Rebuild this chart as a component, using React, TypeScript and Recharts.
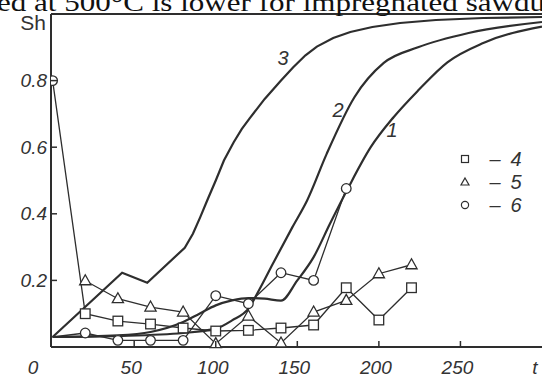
import React from "react";
import { LineChart, Line, XAxis, YAxis, ReferenceLine } from "recharts";

const xTicks = [0, 50, 100, 150, 200, 250, 300];
const yTicks = [0.2, 0.4, 0.6, 0.8];

// smooth curves 1-3
const curve1T = [0, 40, 60, 80, 90, 100, 110, 120, 130, 140, 150, 160, 170, 181, 195, 209, 224, 242, 264, 300];
const curve1Sh = [0.03, 0.035, 0.045, 0.075, 0.1, 0.125, 0.14, 0.147, 0.145, 0.139, 0.2, 0.27, 0.37, 0.476, 0.6, 0.69, 0.77, 0.855, 0.913, 0.962];

const curve2T = [0, 40, 80, 100, 110, 120, 127, 135, 147, 156, 168, 185, 203, 224, 255, 300];
const curve2Sh = [0.03, 0.033, 0.042, 0.055, 0.08, 0.115, 0.175, 0.25, 0.36, 0.44, 0.58, 0.75, 0.853, 0.9, 0.943, 0.976];

// curve 3 has sharp corners early on, so it is drawn as a polyline
const curve3T = [0, 42.6, 58, 81, 86, 90.5, 95, 100, 105, 111, 116, 121, 130, 140, 147.5, 155, 162, 172, 182.5, 196, 213, 235, 264, 300];
const curve3Sh = [0.03, 0.223, 0.193, 0.298, 0.34, 0.39, 0.443, 0.5, 0.56, 0.615, 0.655, 0.688, 0.745, 0.8, 0.84, 0.876, 0.902, 0.928, 0.946, 0.961, 0.973, 0.982, 0.988, 0.991];

// measured points 4-6
const s4T = [0, 20, 40, 60, 80, 100, 120, 140, 160, 180, 200, 220];
const s4Sh = [0.8, 0.1, 0.078, 0.069, 0.057, 0.048, 0.05, 0.057, 0.066, 0.178, 0.081, 0.178];

const s5T = [20, 40, 60, 80, 100, 120, 140, 160, 180, 200, 220];
const s5Sh = [0.199, 0.145, 0.12, 0.105, 0.01, 0.093, 0.012, 0.105, 0.14, 0.22, 0.247];

const s6T = [0, 20, 40, 60, 80, 100, 120, 140, 160, 180];
const s6Sh = [0.03, 0.042, 0.02, 0.02, 0.02, 0.154, 0.13, 0.223, 0.2, 0.476];

const toPoints = (t: number[], v: number[]) => t.map((x, i) => ({ t: x, sh: v[i] }));

const INK = "#2e2e2e";
const tickFont = { fontFamily: "Liberation Sans", fontStyle: "italic", fontSize: 19, fill: "#333" };

const XTick = (props: any) => {
  const { x, y, payload } = props;
  const v = payload.value;
  if (v === 0) {
    return <text x={x - 19.5} y={y + 20} textAnchor="middle" dominantBaseline="central" {...tickFont}>0</text>;
  }
  if (v === 300) {
    return <text x={x - 7} y={y + 20} textAnchor="middle" dominantBaseline="central" {...tickFont}>t</text>;
  }
  return (
    <g>
      <line x1={x} x2={x} y1={y} y2={y - 6} stroke={INK} strokeWidth={1.5} />
      <text x={x - 3} y={y + 20} textAnchor="middle" dominantBaseline="central" {...tickFont}>{v}</text>
    </g>
  );
};

const YTick = (props: any) => {
  const { x, y, payload } = props;
  const v = payload.value;
  return (
    <g>
      <line x1={x} x2={x + 6} y1={y} y2={y} stroke={INK} strokeWidth={1.5} />
      <text x={x - 4} y={y} textAnchor="end" dominantBaseline="central" {...tickFont}>{v.toFixed(1)}</text>
    </g>
  );
};

const openCircle = (key: string, cx: number, cy: number) => (
  <circle key={key} cx={cx} cy={cy} r={4.8} fill="#fff" stroke={INK} strokeWidth={1.3} />
);

const SquareDot = (p: any) => {
  const { cx, cy, index } = p;
  if (index === 0) return openCircle(`s4-${index}`, cx, cy);
  return <rect key={`s4-${index}`} x={cx - 4.8} y={cy - 4.8} width={9.6} height={9.6} fill="#fff" stroke={INK} strokeWidth={1.3} />;
};

const TriangleDot = (p: any) => {
  const { cx, cy, index } = p;
  const pts = `${cx},${cy - 6} ${cx + 5.6},${cy + 4} ${cx - 5.6},${cy + 4}`;
  return <polygon key={`s5-${index}`} points={pts} fill="#fff" stroke={INK} strokeWidth={1.3} />;
};

const CircleDot = (p: any) => {
  const { cx, cy, index } = p;
  if (index === 0) return <g key={`s6-${index}`} />;
  return openCircle(`s6-${index}`, cx, cy);
};

const labelFont = { fontFamily: "Liberation Sans", fontStyle: "italic", fontSize: 20, fill: "#333" };

export default function App() {
  return (
    <div style={{ position: "absolute", left: 0, top: 0, width: 542, height: 377, background: "#fff", overflow: "hidden" }}>
      <LineChart width={542} height={377} margin={{ top: 14, right: 0, bottom: 0, left: 0 }}>
        <XAxis
          dataKey="t"
          type="number"
          domain={[-1, 300]}
          ticks={xTicks}
          allowDataOverflow
          height={30}
          tickSize={0}
          tickMargin={0}
          tickLine={false}
          axisLine={{ stroke: INK, strokeWidth: 2 }}
          tick={<XTick />}
          interval={0}
        />
        <YAxis
          type="number"
          domain={[0, 1]}
          ticks={yTicks}
          width={51}
          tickSize={0}
          tickMargin={0}
          tickLine={false}
          axisLine={{ stroke: INK, strokeWidth: 2 }}
          tick={<YTick />}
          interval={0}
        />
        <ReferenceLine y={1} stroke={INK} strokeWidth={2} />
        <Line data={toPoints(curve3T, curve3Sh)} dataKey="sh" type="linear" stroke={INK} strokeWidth={2.2} dot={false} isAnimationActive={false} />
        <Line data={toPoints(curve2T, curve2Sh)} dataKey="sh" type="monotone" stroke={INK} strokeWidth={2.2} dot={false} isAnimationActive={false} />
        <Line data={toPoints(curve1T, curve1Sh)} dataKey="sh" type="monotone" stroke={INK} strokeWidth={2.2} dot={false} isAnimationActive={false} />
        <Line data={toPoints(s4T, s4Sh)} dataKey="sh" type="linear" stroke={INK} strokeWidth={1.3} dot={SquareDot} isAnimationActive={false} />
        <Line data={toPoints(s5T, s5Sh)} dataKey="sh" type="linear" stroke={INK} strokeWidth={1.3} dot={TriangleDot} isAnimationActive={false} />
        <Line data={toPoints(s6T, s6Sh)} dataKey="sh" type="linear" stroke={INK} strokeWidth={1.3} dot={CircleDot} isAnimationActive={false} />
      </LineChart>
      <svg width={542} height={377} style={{ position: "absolute", left: 0, top: 0, pointerEvents: "none" }}>
        <text x={-3} y={11} fontFamily="Liberation Serif" fontSize={26} fill="#111" textLength={548} lengthAdjust="spacingAndGlyphs">
          ed at 500°C is lower for impregnated sawdu
        </text>
        <text x={46} y={30} textAnchor="end" fontFamily="Liberation Sans" fontSize={21} fill="#333">Sh</text>
        <text x={283} y={58} textAnchor="middle" dominantBaseline="central" {...labelFont}>3</text>
        <text x={338} y={110} textAnchor="middle" dominantBaseline="central" {...labelFont}>2</text>
        <text x={392} y={130} textAnchor="middle" dominantBaseline="central" {...labelFont}>1</text>
        <rect x={461.5} y={155.5} width={7} height={7} fill="#fff" stroke={INK} strokeWidth={1.2} />
        <polygon points="465,178 469,185 461,185" fill="#fff" stroke={INK} strokeWidth={1.2} />
        <circle cx={465} cy={205} r={3.6} fill="#fff" stroke={INK} strokeWidth={1.2} />
        <text x={495} y={159} textAnchor="middle" dominantBaseline="central" {...labelFont}>–</text>
        <text x={516} y={159} textAnchor="middle" dominantBaseline="central" {...labelFont}>4</text>
        <text x={495} y={182} textAnchor="middle" dominantBaseline="central" {...labelFont}>–</text>
        <text x={516} y={182} textAnchor="middle" dominantBaseline="central" {...labelFont}>5</text>
        <text x={495} y={205} textAnchor="middle" dominantBaseline="central" {...labelFont}>–</text>
        <text x={516} y={205} textAnchor="middle" dominantBaseline="central" {...labelFont}>6</text>
      </svg>
    </div>
  );
}
